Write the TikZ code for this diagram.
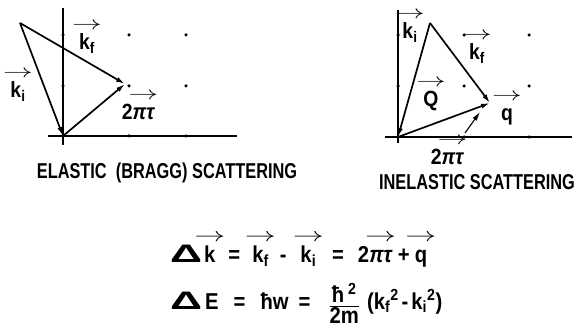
\documentclass[tikz,border=0pt]{standalone}
\usepackage{fix-cm}
\usepackage{amsmath}
\usepackage{graphicx}
\usepackage{fontspec}
\usetikzlibrary{arrows.meta,positioning}
\newfontfamily\lblfont{Liberation Sans}[FakeStretch=0.88]
\newfontfamily\capfont{Liberation Sans}[FakeStretch=0.76]
% arrow over a symbol, not counted in its width
\newcommand{\vecl}[1]{\begingroup\sbox0{#1}\rlap{\makebox[\wd0]{\raisebox{0.95em}{\scalebox{1.35}[0.85]{$\rightarrow$}}}}\usebox0\endgroup}

\begin{document}
\begin{tikzpicture}[x=1pt,y=1pt,>={Latex[length=9pt,width=5pt]},
  every node/.style={inner sep=0pt},
  axis/.style={line width=1.3pt},
  vecline/.style={->,line width=1.7pt},
  latdot/.style={circle,fill=black,inner sep=0pt,minimum size=3.5pt},
  lbl/.style={font=\lblfont\bfseries\fontsize{22}{26}\selectfont,anchor=base},
  captext/.style={font=\capfont\bfseries\fontsize{21.5}{25}\selectfont,anchor=base},
  eqn/.style={font=\lblfont\bfseries\fontsize{23}{27}\selectfont,anchor=base west}]
  \useasboundingbox (0,0) rectangle (578,332);

  % elastic (Bragg) lattice
  \coordinate (o1) at (63,196);
  \coordinate (apex1) at (20,309);
  \coordinate (tip1) at (125,248);
  \coordinate (vbot1) at (63,187);
  \coordinate (vtop1) at (63,324);
  \coordinate (hleft1) at (48,196);
  \coordinate (hright1) at (237,196);
  \draw[axis] (vbot1) -- (vtop1);
  \draw[axis] (hleft1) -- (hright1);
  \foreach \x in {63,129,186}
    \foreach \y in {196,246,297}
      \node[latdot] (dotA-\x-\y) at (\x,\y) {};
  \draw[vecline] (apex1) -- (o1);
  \draw[vecline] (apex1) -- (tip1);
  \draw[vecline] (o1) -- (tip1);
  \node[lbl] (kf1) at (87,282) {\vecl{k\textsubscript{f}}};
  \node[lbl] (ki1) at (18,234) {\vecl{k\textsubscript{i}}};
  \node[lbl] (tau1) at (138,212) {2\vecl{\itshape πτ}};
  \node[captext] (elcap) at (167,153) {ELASTIC\ \ (BRAGG) SCATTERING};

  % inelastic lattice
  \coordinate (o2) at (398,195);
  \coordinate (apex2) at (430,309);
  \coordinate (tip2) at (490,229);
  \coordinate (vbot2) at (398,189);
  \coordinate (vtop2) at (398,322);
  \coordinate (hleft2) at (385,195);
  \coordinate (hright2) at (572,195);
  \coordinate (qs) at (465,199);
  \coordinate (qe) at (480,220);
  \draw[axis] (vbot2) -- (vtop2);
  \draw[axis] (hleft2) -- (hright2);
  \foreach \x in {398,464,529}
    \foreach \y in {195,246,297}
      \node[latdot] (dotB-\x-\y) at (\x,\y) {};
  \draw[vecline] (apex2) -- (o2);
  \draw[vecline] (apex2) -- (tip2);
  \draw[vecline] (o2) -- (tip2);
  \draw[->,line width=1.1pt] (qs) -- (qe);
  \node[lbl] (ki2) at (410,293) {\vecl{k\textsubscript{i}}};
  \node[lbl] (kf2) at (477,272) {\vecl{k\textsubscript{f}}};
  \node[lbl] (bigq) at (431,225) {\vecl{Q}};
  \node[lbl] (smallq) at (507,211) {\vecl{q}};
  \node[lbl] (tau2) at (447,167) {2\vecl{\itshape πτ}};
  \node[captext] (inelcap) at (477,142) {INELASTIC SCATTERING};

  % conservation laws
  \node[eqn] (eqk) at (170,69) {\scalebox{2.2}[1.1]{Δ}\hspace{2pt}\vecl{k}\hspace{13pt}=\hspace{12pt}\vecl{k\textsubscript{f}}\hspace{11pt}-\hspace{14pt}\vecl{k\textsubscript{i}}\hspace{16pt}=\hspace{14pt}2\vecl{\itshape πτ}\hspace{6pt}+\hspace{5pt}\vecl{q}};
  \node[eqn] (eqE) at (170,23) {\scalebox{2.2}[1.1]{Δ}\hspace{3pt}E\hspace{15pt}=\hspace{15pt}ħw\hspace{10pt}=\hspace{18pt}\raisebox{-3pt}{$\frac{\mbox{ħ\,\textsuperscript{2}}}{\mbox{2m}}$}\hspace{7pt}(k\textsubscript{f}\textsuperscript{2}\hspace{3pt}-\hspace{3pt}k\textsubscript{i}\textsuperscript{2})};
\end{tikzpicture}
\end{document}
